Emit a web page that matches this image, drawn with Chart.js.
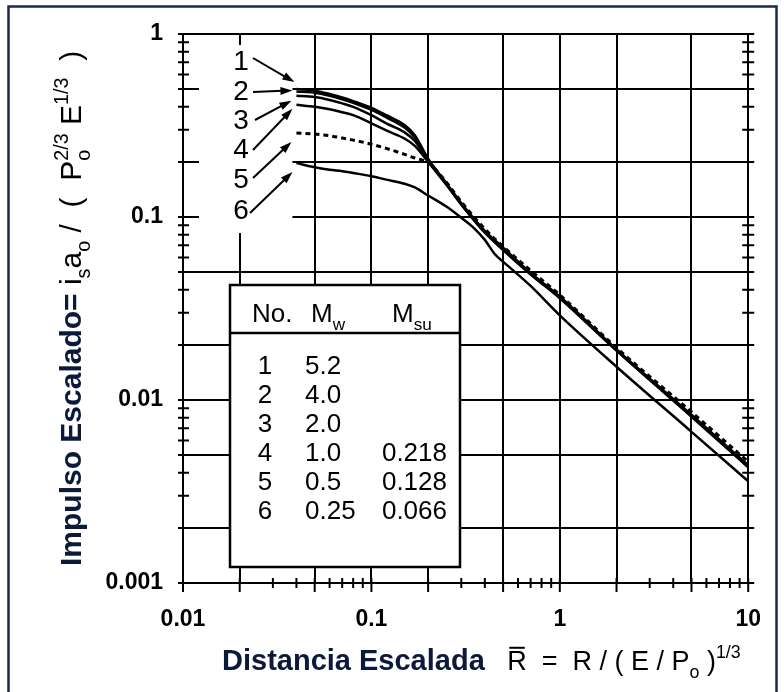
<!DOCTYPE html>
<html>
<head>
<meta charset="utf-8">
<script src="https://cdn.jsdelivr.net/npm/chart.js@4.4.1/dist/chart.umd.min.js"></script>
<style>
  html, body { margin: 0; padding: 0; background: #fff; }
  canvas { display: block; }
</style>
</head>
<body>
<canvas id="chart" width="784" height="692"></canvas>
<script>
// scaled distance values
const xVals = [0.04, 0.05, 0.06, 0.07, 0.08, 0.1, 0.12, 0.15, 0.17, 0.2, 0.25, 0.3, 0.4, 0.5, 0.7, 1, 2, 5, 10];
const xVals6 = [0.04, 0.05, 0.06, 0.07, 0.08, 0.1, 0.12, 0.15, 0.17, 0.2, 0.25, 0.3, 0.35, 0.4, 0.45, 0.5, 0.7, 1, 2, 5, 10];

// scaled impulse for each curve
const curve1 = [0.50, 0.49, 0.47, 0.45, 0.43, 0.395, 0.36, 0.318, 0.28, 0.208, 0.153, 0.119, 0.084, 0.068, 0.0495, 0.0368, 0.0189, 0.0083, 0.0044];
const curve2 = [0.485, 0.478, 0.46, 0.44, 0.42, 0.385, 0.35, 0.308, 0.272, 0.205, 0.152, 0.118, 0.083, 0.067, 0.049, 0.0365, 0.0188, 0.0082, 0.0043];
const curve3 = [0.46, 0.452, 0.436, 0.418, 0.40, 0.36, 0.325, 0.29, 0.26, 0.203, 0.151, 0.117, 0.083, 0.067, 0.049, 0.0363, 0.0187, 0.0082, 0.0043];
const curve4 = [0.41, 0.40, 0.388, 0.374, 0.36, 0.325, 0.297, 0.268, 0.245, 0.2, 0.15, 0.117, 0.082, 0.066, 0.0485, 0.036, 0.0186, 0.0081, 0.0043];
const curve5 = [0.288, 0.284, 0.278, 0.27, 0.263, 0.25, 0.237, 0.22, 0.21, 0.198, 0.155, 0.121, 0.086, 0.069, 0.051, 0.0375, 0.0193, 0.0086, 0.0046];
const curve6 = [0.197, 0.187, 0.181, 0.178, 0.174, 0.167, 0.16, 0.152, 0.145, 0.131, 0.114, 0.099, 0.087, 0.075, 0.063, 0.057, 0.042, 0.029, 0.0152, 0.0067, 0.0036];

const curveLabels = ['1', '2', '3', '4', '5', '6'];

// table in the plot
const tableNo = ['1', '2', '3', '4', '5', '6'];
const tableMw = ['5.2', '4.0', '2.0', '1.0', '0.5', '0.25'];
const tableMsu = ['', '', '', '0.218', '0.128', '0.066'];

// axis ticks
const xDecades = [0.01, 0.1, 1, 10];
const xTickLabels = ['0.01', '0.1', '1', '10'];
const yDecades = [0.001, 0.01, 0.1, 1];
const yTickLabels = ['0.001', '0.01', '0.1', '1'];
const gridMantissas = [1, 2, 5];

const FONT = '"Liberation Sans", Arial, Helvetica, sans-serif';

function pts(xs, ys) {
    return xs.map((x, i) => ({ x: x, y: ys[i] }));
}

function allTicks(decades) {
    const out = [];
    decades.forEach((d, i) => {
        if (i === decades.length - 1) { out.push(d); return; }
        for (let m = 1; m <= 9; m++) out.push(m * d);
    });
    return out;
}

function mantissa(v) {
    const e = Math.floor(Math.log10(v) + 1e-9);
    return Math.round(v / Math.pow(10, e));
}

function isMajor(v) {
    return gridMantissas.includes(mantissa(v));
}

function decadeLabel(v, decades, labels) {
    const i = decades.findIndex(d => Math.abs(d - v) / d < 1e-6);
    return i >= 0 ? labels[i] : '';
}

// text with sub / superscripts; p = [text, style, colour, deco, size]
function richText(ctx, parts, x, y, size) {
    let cx = x;
    parts.forEach(p => {
        const base = p[4] || size;
        const small = base * 0.66;
        const st = p[1];
        if (st === 'subsup') {
            ctx.font = `normal ${small}px ${FONT}`;
            ctx.fillText(p[0][0], cx, y + base * 0.3);
            ctx.fillText(p[0][1], cx, y - base * 0.45);
            cx += Math.max(ctx.measureText(p[0][0]).width, ctx.measureText(p[0][1]).width);
            return;
        }
        let fs = base, dy = 0, w = 'normal';
        if (st === 'b') w = 'bold';
        if (st === 'sub') { fs = small; dy = base * 0.3; }
        if (st === 'sup') { fs = small; dy = -base * 0.45; }
        ctx.font = `${w} ${fs}px ${FONT}`;
        if (p[2]) ctx.fillStyle = p[2];
        ctx.fillText(p[0], cx, y + dy);
        if (p[3] === 'bar') {
            ctx.fillRect(cx + 2, y - fs * 0.86, ctx.measureText(p[0]).width - 4, 2);
        }
        cx += ctx.measureText(p[0]).width;
        ctx.fillStyle = '#000';
    });
}

function arrow(ctx, x1, y1, x2, y2) {
    const a = Math.atan2(y2 - y1, x2 - x1);
    const len = 12, half = 4;
    ctx.beginPath();
    ctx.moveTo(x1, y1);
    ctx.lineTo(x2 - len * 0.8 * Math.cos(a), y2 - len * 0.8 * Math.sin(a));
    ctx.stroke();
    ctx.beginPath();
    ctx.moveTo(x2, y2);
    ctx.lineTo(x2 - len * Math.cos(a) + half * Math.sin(a), y2 - len * Math.sin(a) - half * Math.cos(a));
    ctx.lineTo(x2 - len * Math.cos(a) - half * Math.sin(a), y2 - len * Math.sin(a) + half * Math.cos(a));
    ctx.closePath();
    ctx.fill();
}

const underlay = {
    id: 'underlay',
    beforeDatasetsDraw(chart) {
        const ctx = chart.ctx;
        const xs = chart.scales.x, ys = chart.scales.y;
        const a = chart.chartArea;
        ctx.save();
        // blank patch behind the curve labels
        ctx.fillStyle = '#fff';
        ctx.fillRect(a.left + 16, 45, xs.getPixelForValue(0.04) - 4 - (a.left + 16), 188);

        ctx.strokeStyle = '#000';
        ctx.lineWidth = 2;
        // y tick marks, left and right
        ys.ticks.forEach(t => {
            const y = ys.getPixelForValue(t.value);
            const maj = isMajor(t.value);
            ctx.beginPath();
            ctx.moveTo(a.left - 5, y); ctx.lineTo(a.left + (maj ? 15 : 6), y);
            ctx.moveTo(a.right - 6, y); ctx.lineTo(a.right + 6, y);
            ctx.stroke();
        });
        // x tick marks
        xs.ticks.forEach(t => {
            const x = xs.getPixelForValue(t.value);
            const maj = isMajor(t.value);
            ctx.beginPath();
            ctx.moveTo(x, a.bottom - 5); ctx.lineTo(x, a.bottom + (maj ? 9 : 5));
            ctx.stroke();
        });
        ctx.restore();
    },
    afterDraw(chart) {
        const ctx = chart.ctx;
        const xs = chart.scales.x, ys = chart.scales.y;
        ctx.save();
        ctx.fillStyle = '#000';
        ctx.strokeStyle = '#000';

        // curve labels and arrows
        const starts = [curve1, curve2, curve3, curve4, curve5, curve6];
        const tips = [[-2, -7], [-4, -1], [-5, 5], [-4, 4], [-5, 9], [-4, 9]];
        const tails = [[253, 58], [253, 92], [255, 120], [253, 150], [253, 178], [250, 213]];
        ctx.font = `normal 28px ${FONT}`;
        ctx.textAlign = 'center';
        ctx.textBaseline = 'middle';
        ctx.lineWidth = 2;
        curveLabels.forEach((lab, i) => {
            const tx = xs.getPixelForValue(xVals[0]) + tips[i][0];
            const ty = ys.getPixelForValue(starts[i][0]) + tips[i][1];
            ctx.fillText(lab, 241, [62, 92, 121, 150, 180, 211][i]);
            arrow(ctx, tails[i][0], tails[i][1], tx, ty);
        });

        // table
        const tb = { l: 230, t: 285, r: 460, b: 567 };
        ctx.fillStyle = '#fff';
        ctx.fillRect(tb.l, tb.t, tb.r - tb.l, tb.b - tb.t);
        ctx.lineWidth = 2.5;
        ctx.strokeRect(tb.l, tb.t, tb.r - tb.l, tb.b - tb.t);
        ctx.beginPath();
        ctx.moveTo(tb.l, 333); ctx.lineTo(tb.r, 333);
        ctx.stroke();
        ctx.fillStyle = '#000';
        ctx.textBaseline = 'alphabetic';
        ctx.textAlign = 'left';
        richText(ctx, [['No.', 'r']], 252, 322, 26);
        richText(ctx, [['M', 'r'], ['w', 'sub']], 311, 322, 26);
        richText(ctx, [['M', 'r'], ['su', 'sub']], 392, 322, 26);
        ctx.font = `normal 26px ${FONT}`;
        tableNo.forEach((n, i) => {
            const y = 374 + i * 29;
            ctx.textAlign = 'center';
            ctx.fillText(n, 265, y);
            ctx.textAlign = 'left';
            ctx.fillText(tableMw[i], 305, y);
            ctx.textAlign = 'right';
            ctx.fillText(tableMsu[i], 447, y);
        });

        // axis titles
        ctx.textAlign = 'left';
        const navy = '#0c1a3a';
        richText(ctx, [
            ['Distancia Escalada', 'b', navy],
            ['   ', 'r', null, null, 27],
            ['R', 'r', '#000', 'bar', 27],
            ['  =  R / ( E / P', 'r', null, null, 27],
            ['o', 'sub', null, null, 27],
            [' )', 'r', null, null, 27],
            ['1/3', 'sup', null, null, 27]
        ], 222, 670, 29);

        ctx.save();
        ctx.translate(81, 566);
        ctx.rotate(-Math.PI / 2);
        richText(ctx, [
            ['Impulso Escalado=', 'b', navy],
            [' i', 'r'], ['s', 'sub'],
            ['a', 'r'], ['o', 'sub'],
            [' /  (  P', 'r'],
            [['o', '2/3'], 'subsup'],
            [' E', 'r'], ['1/3', 'sup'],
            ['  )', 'r']
        ], 0, 0, 30);
        ctx.restore();

        // frame round the picture
        ctx.strokeStyle = '#1b2a4a';
        ctx.lineWidth = 2.5;
        ctx.strokeRect(8.5, 6.5, 768, 700);
        ctx.restore();
    }
};

const lineStyle = {
    borderColor: '#000',
    borderWidth: 2.5,
    pointRadius: 0,
    fill: false,
    cubicInterpolationMode: 'monotone'
};

new Chart(document.getElementById('chart'), {
    type: 'line',
    data: {
        datasets: [
            Object.assign({ label: '1', data: pts(xVals, curve1) }, lineStyle),
            Object.assign({ label: '2', data: pts(xVals, curve2) }, lineStyle),
            Object.assign({ label: '3', data: pts(xVals, curve3) }, lineStyle),
            Object.assign({ label: '4', data: pts(xVals, curve4) }, lineStyle),
            Object.assign({ label: '5', data: pts(xVals, curve5) }, lineStyle, { borderDash: [5, 4], borderWidth: 3 }),
            Object.assign({ label: '6', data: pts(xVals6, curve6) }, lineStyle)
        ]
    },
    options: {
        responsive: false,
        animation: false,
        layout: { padding: { top: 34, right: 34, left: 0, bottom: 0 } },
        plugins: { legend: { display: false }, tooltip: { enabled: false } },
        scales: {
            x: {
                type: 'logarithmic',
                min: 0.01,
                max: 10,
                afterBuildTicks: s => { s.ticks = allTicks(xDecades).map(v => ({ value: v })); },
                afterFit: s => { s.height = 109; },
                grid: {
                    color: c => (c.tick && isMajor(c.tick.value)) ? '#000' : 'rgba(0,0,0,0)',
                    lineWidth: 2,
                    drawTicks: false
                },
                border: { display: true, color: '#000', width: 2 },
                ticks: {
                    autoSkip: false,
                    maxRotation: 0,
                    padding: 23,
                    color: '#000',
                    font: { family: FONT, size: 23, weight: 'bold' },
                    callback: v => decadeLabel(v, xDecades, xTickLabels)
                }
            },
            y: {
                type: 'logarithmic',
                min: 0.001,
                max: 1,
                afterBuildTicks: s => { s.ticks = allTicks(yDecades).map(v => ({ value: v })); },
                afterFit: s => { s.width = 183; },
                grid: {
                    color: c => (c.tick && isMajor(c.tick.value)) ? '#000' : 'rgba(0,0,0,0)',
                    lineWidth: 2,
                    drawTicks: false
                },
                border: { display: true, color: '#000', width: 2 },
                ticks: {
                    autoSkip: false,
                    padding: 20,
                    color: '#000',
                    font: { family: FONT, size: 23, weight: 'bold' },
                    callback: v => decadeLabel(v, yDecades, yTickLabels)
                }
            }
        }
    },
    plugins: [underlay]
});
</script>
</body>
</html>
